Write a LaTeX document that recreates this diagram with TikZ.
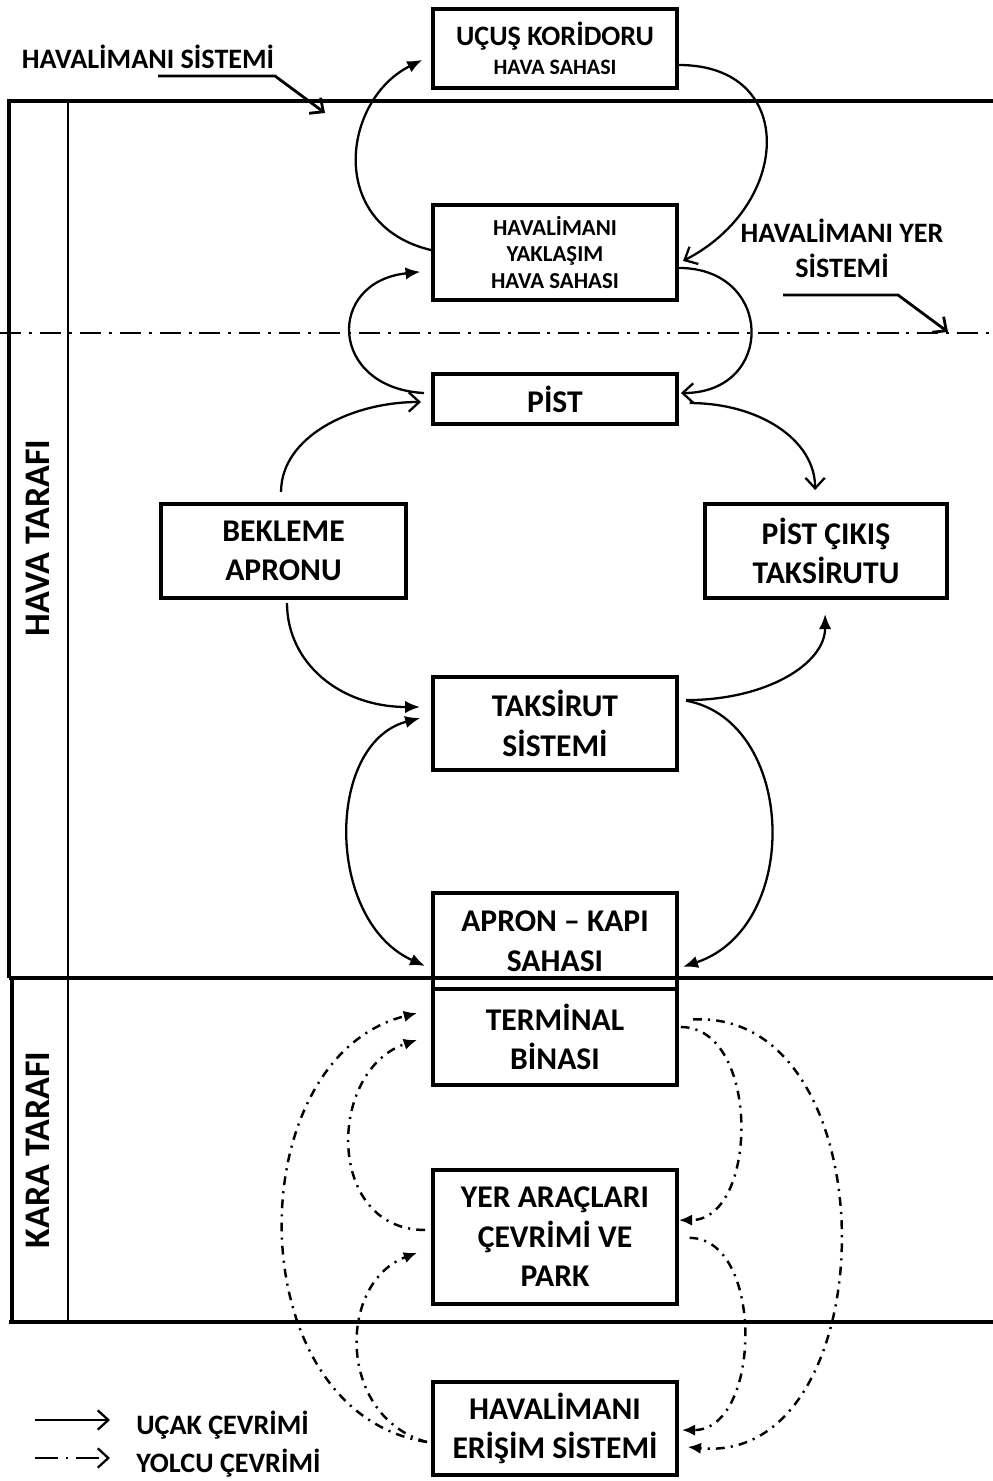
\documentclass[tikz,border=0pt]{standalone}
\usepackage{fontspec}
\setmainfont{Carlito}
\usetikzlibrary{arrows.meta,calc}

\begin{document}
\begin{tikzpicture}[x=0.02cm,y=-0.02cm,
  box/.style={draw, line width=2.3pt, inner sep=0pt, align=center,
    minimum width=4.88cm, font=\bfseries\fontsize{18}{22.5}\selectfont},
  lbl/.style={inner sep=0pt, align=center, font=\bfseries\fontsize{16}{20}\selectfont},
  side/.style={inner sep=0pt, rotate=90, font=\bfseries\fontsize{20.5}{24}\selectfont},
  frame/.style={line width=2.2pt},
  thinframe/.style={line width=1.3pt},
  flow/.style={line width=1.3pt},
  leader/.style={line width=1.6pt, -{Straight Barb[length=6pt,width=11pt]}},
  solidtip/.style={-{Latex[length=8.5pt,width=7pt]}},
  opentip/.style={-{Straight Barb[length=6pt,width=11pt,line width=1.3pt]}},
  pax/.style={line width=1.4pt, dash pattern=on 5pt off 3.5pt on 1.2pt off 3.5pt,
    -{Latex[length=7.5pt,width=6.5pt]}},
]
\useasboundingbox (0,0) rectangle (993,1481);

% ---- side zones and boundaries ----
\draw[frame] (993,101) -- (9,101) -- (9,978);
\draw[thinframe] (68,101) -- (68,1322);
\draw[frame] (9,978) -- (993,978);
\draw[frame] (12,978) -- (12,1322);
\draw[frame] (9,1322) -- (993,1322);
\draw[line width=1.7pt, dash pattern=on 12pt off 4.5pt on 1.7pt off 4.5pt] (0,333) -- (993,333);

\node[side] (hava) at (38,538) {HAVA TARAFI};
\node[side] (kara) at (38,1150) {KARA TARAFI};

% ---- system labels with leaders ----
\node[lbl] (hsys) at (148,57) {HAVALİMANI SİSTEMİ};
\coordinate (hs1) at (158,76);
\coordinate (hs2) at (275,76);
\coordinate (hs3) at (325,113);
\draw[leader] (hs1) -- (hs2) -- (hs3);

\node[lbl] (ysys) at (842,248) {HAVALİMANI YER\\SİSTEMİ};
\coordinate (ys1) at (783,295);
\coordinate (ys2) at (898,295);
\coordinate (ys3) at (948,332);
\draw[leader] (ys1) -- (ys2) -- (ys3);

% ---- component boxes ----
\node[box, minimum height=1.58cm] (ucus) at (555,48.5)
  {\fontsize{16}{19}\selectfont UÇUŞ KORİDORU\\[-6pt]\fontsize{12.5}{15}\selectfont HAVA SAHASI};
\node[box, minimum height=1.9cm, font=\bfseries\fontsize{13}{15.3}\selectfont] (yak) at (555,252.5)
  {HAVALİMANI\\YAKLAŞIM\\HAVA SAHASI};
\node[box, minimum height=1.0cm] (pist) at (555,399) {PİST};
\node[box, minimum width=4.9cm, minimum height=1.88cm] (bek) at (283.5,551) {BEKLEME\\APRONU};
\node[box, minimum width=4.84cm, minimum height=1.88cm] (cik) at (826,551) {PİST ÇIKIŞ\\TAKSİRUTU};
\node[box, minimum height=1.86cm] (tak) at (555,723.5) {TAKSİRUT\\SİSTEMİ};
\node[box, minimum height=1.92cm] (apr) at (555,941) {APRON – KAPI\\SAHASI};
\node[box, minimum height=1.92cm] (term) at (555,1037) {TERMİNAL\\BİNASI};
\node[box, minimum height=2.68cm] (yer) at (555,1237) {YER ARAÇLARI\\ÇEVRİMİ VE\\PARK};
\node[box, minimum height=1.86cm] (eri) at (555,1428.5) {HAVALİMANI\\ERİŞİM SİSTEMİ};

% ---- aircraft cycle ----
\draw[flow, solidtip] ([yshift=1.4pt]yak.west) .. controls +(-105,-25) and +(-80,40) .. ([xshift=-5pt,yshift=-6.5pt]ucus.west);
\draw[flow, opentip] ([yshift=-9.4pt]ucus.east) .. controls +(119,0) and +(109,-56) .. ([xshift=2.3pt,yshift=-4.8pt]yak.east);
\draw[flow, solidtip] ([xshift=-4pt,yshift=3.4pt]pist.west) .. controls +(-95,-5) and +(-95,10) .. ([xshift=-6pt,yshift=-11pt]yak.west);
\draw[flow, opentip] ([yshift=-8.8pt]yak.east) .. controls +(95,0) and +(95,0) .. ([xshift=1.1pt,yshift=3.4pt]pist.east);
\draw[flow, opentip] ([xshift=-1.4pt,yshift=5.7pt]bek.north) .. controls +(0,-55) and +(-70,0) .. ([xshift=-5.7pt,yshift=-1.7pt]pist.west);
\draw[flow, opentip] ([xshift=6pt,yshift=-2.3pt]pist.east) .. controls +(70,0) and +(0,-50) .. ([xshift=-6.2pt,yshift=6.8pt]cik.north);
\draw[flow, solidtip] ([xshift=2pt,yshift=-1.7pt]bek.south) .. controls +(0,60) and +(-80,0) .. ([xshift=-6.2pt,yshift=9.4pt]tak.west);
\draw[flow, solidtip] ([xshift=4pt,yshift=13.3pt]tak.east) .. controls +(80,0) and +(0,50) .. ([xshift=-0.5pt,yshift=-8pt]cik.south);
\draw[flow, {Latex[length=8.5pt,width=7pt]}-{Latex[length=8.5pt,width=7pt]}] ([xshift=-6.2pt,yshift=3.1pt]tak.west) .. controls +(-95,25) and +(-100,-45) .. ([xshift=-3.4pt,yshift=-14.2pt]apr.west);
\draw[flow, solidtip] ([xshift=4pt,yshift=13pt]tak.east) .. controls +(110,20) and +(120,-40) .. ([xshift=2.3pt,yshift=-14.7pt]apr.east);

% ---- passenger cycle ----
\draw[pax] ([xshift=-2.3pt,yshift=-7.7pt]eri.west) .. controls +(-190,-30) and +(-180,45) .. ([xshift=-8pt,yshift=13.6pt]term.west);
\draw[pax] ([xshift=-3.4pt,yshift=4pt]yer.west) .. controls +(-100,0) and +(-90,30) .. ([xshift=-8pt,yshift=-1.7pt]term.west);
\draw[pax] ([xshift=-2.3pt,yshift=-7.7pt]eri.west) .. controls +(-90,-25) and +(-80,30) .. ([xshift=-8pt,yshift=-9pt]yer.west);
\draw[pax] ([xshift=1pt,yshift=5.7pt]term.east) .. controls +(80,0) and +(80,0) .. ([yshift=9.6pt]yer.east);
\draw[pax] ([xshift=8pt,yshift=10pt]term.east) .. controls +(200,-10) and +(200,20) .. ([xshift=5pt,yshift=-10.5pt]eri.east);
\draw[pax] ([xshift=6pt,yshift=-0.5pt]yer.east) .. controls +(75,0) and +(80,0) .. ([xshift=1.7pt,yshift=-0.9pt]eri.east);

% ---- legend ----
\coordinate (la1) at (35,1420);
\coordinate (la2) at (110,1420);
\coordinate (lb1) at (35,1458);
\coordinate (lb2) at (110,1458);
\draw[flow, -{Straight Barb[length=6pt,width=11pt]}] (la1) -- (la2);
\draw[flow, dash pattern=on 13pt off 4.5pt on 1.2pt off 4.5pt, -{Straight Barb[length=6pt,width=11pt]}] (lb1) -- (lb2);
\node[lbl, anchor=west] (lu) at (136,1425) {UÇAK ÇEVRİMİ};
\node[lbl, anchor=west] (ly) at (136,1463) {YOLCU ÇEVRİMİ};
\end{tikzpicture}
\end{document}
